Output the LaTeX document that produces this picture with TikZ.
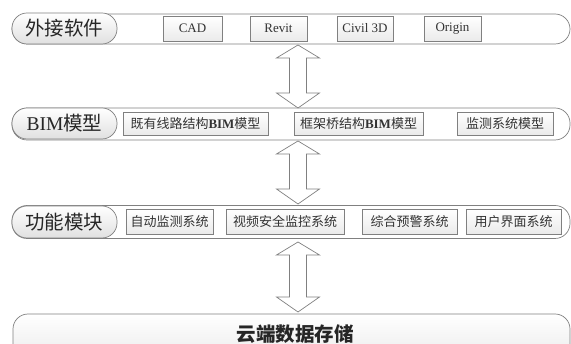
\documentclass[tikz,border=0pt]{standalone}
\usepackage{fontspec}
\setmainfont{Liberation Serif}
\newfontfamily\cjk{Noto Sans CJK SC}
\newfontfamily\latinserif{Liberation Serif}
\begin{document}
\begin{tikzpicture}[x=1pt,y=-1pt,
  line/.style={draw=black!50, line width=0.7pt},
  outerpill/.style={line, rounded corners=15pt, fill=white, minimum width=558pt, inner sep=0pt},
  labelpill/.style={line, rounded corners=15pt, top color=white, bottom color=black!12, minimum width=105pt, inner sep=0pt, font=\fontsize{19.5}{19.5}\selectfont\cjk, text=black!85},
  itembox/.style={line, top color=white, bottom color=black!8, inner sep=0pt, font=\fontsize{13}{13}\selectfont, text=black!80},
  blockarrow/.style={line, fill=white}]
\useasboundingbox (0,0) rectangle (571,344);
\clip (0,0) rectangle (571,344);
% row 1
\node[outerpill, minimum height=30pt] (r1) at (291,29) {};
\node[labelpill, minimum height=31pt] (l1) at (64.5,28.5) {外接软件};
\node[itembox, minimum width=59pt, minimum height=25pt] (b11) at (192.5,28.5) {CAD};
\node[itembox, minimum width=57pt, minimum height=25pt] (b12) at (278.5,28.5) {Revit};
\node[itembox, minimum width=56pt, minimum height=25pt] (b13) at (365,28.5) {Civil 3D};
\node[itembox, minimum width=57pt, minimum height=25pt] (b14) at (452.5,28.5) {Origin};
% row 2
\node[outerpill, minimum height=32pt] (r2) at (291,124) {};
\node[labelpill, minimum height=31pt] (l2) at (64.5,123.5) {{\latinserif BIM}模型};
\node[itembox, minimum width=145pt, minimum height=23pt] (b21) at (195.5,123.5) {{\cjk 既有线路结构}\textbf{BIM}{\cjk 模型}};
\node[itembox, minimum width=129pt, minimum height=23pt] (b22) at (358.5,123.5) {{\cjk 框架桥结构}\textbf{BIM}{\cjk 模型}};
\node[itembox, minimum width=96pt, minimum height=23pt] (b23) at (505,123.5) {\cjk 监测系统模型};
% row 3
\node[outerpill, minimum height=33pt] (r3) at (291,222) {};
\node[labelpill, minimum height=32pt] (l3) at (64.5,222) {功能模块};
\node[itembox, minimum width=87pt, minimum height=25pt] (b31) at (169.5,221.5) {\cjk 自动监测系统};
\node[itembox, minimum width=118pt, minimum height=25pt] (b32) at (285,221.5) {\cjk 视频安全监控系统};
\node[itembox, minimum width=95pt, minimum height=25pt] (b33) at (409.5,221.5) {\cjk 综合预警系统};
\node[itembox, minimum width=95pt, minimum height=25pt] (b34) at (513.5,221.5) {\cjk 用户界面系统};
% row 4
\node[outerpill, minimum height=60pt, minimum width=557pt, top color=white, bottom color=black!10] (r4) at (291.5,344) {};
\node[font=\fontsize{19.5}{19.5}\selectfont\cjk\bfseries, text=black!85] (t4) at (295,334.5) {云端数据存储};
% block arrows
\newcommand{\dblarrow}[3]{%
  \draw[blockarrow] (#1,#2) -- ++(21.5,13) -- ++(-13,0) -- (#1+8.5,#3-15) -- ++(13,0) -- (#1,#3)
    -- ++(-21.5,-15) -- ++(13,0) -- (#1-8.5,#2+13) -- ++(-13,0) -- cycle;}
\dblarrow{298}{45}{108}
\dblarrow{298}{141}{204}
\dblarrow{298}{242}{312}
\end{tikzpicture}
\end{document}
